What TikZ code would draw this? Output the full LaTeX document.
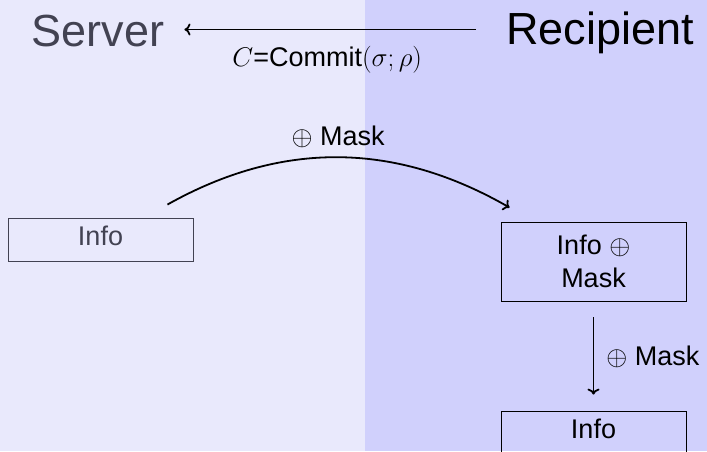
\RequirePackage{fix-cm}
\documentclass[tikz,border=0pt]{standalone}
\usepackage{fontspec}
\setmainfont{Liberation Sans}
\usetikzlibrary{arrows.meta}
\definecolor{bgleft}{RGB}{233,233,252}
\definecolor{bgright}{RGB}{208,208,252}
\definecolor{dimtext}{RGB}{66,66,82}
\tikzset{
  party/.style={font=\fontsize{45}{52}\selectfont, text height=32pt, text depth=0pt, inner sep=0pt},
  msgbox/.style={draw, line width=0.9pt, minimum width=185pt, font=\fontsize{27}{33}\selectfont, align=center, inner sep=0pt},
  onebox/.style={msgbox, minimum height=43pt, text depth=7pt},
  lbl/.style={font=\fontsize{27}{33}\selectfont, inner sep=0pt},
  flow/.style={-{To[length=6pt,width=12pt]}, line width=1.8pt},
}
\begin{document}
\begin{tikzpicture}[x=1pt,y=-1pt]
  % two shaded halves
  \fill[bgleft] (0,0) rectangle (365,451);
  \fill[bgright] (365,0) rectangle (707,451);
  \useasboundingbox (0,0) rectangle (707,451);

  % parties
  \node[party, text=dimtext] (server) at (98,30) {Server};
  \node[party] (recip) at (600,28) {Recipient};

  % commitment sent to the server
  \draw[flow] ([xshift=-30pt]recip.west |- 0,29.5) -- ([xshift=20pt]server.east |- 0,29.5)
    node[lbl, midway, anchor=base, yshift=-37pt, xshift=-3pt] {$C$=Commit$(\sigma;\rho)$};

  % boxes
  \node[onebox, draw=dimtext, text=dimtext] (info) at (100.5,239.5) {Info};
  \node[msgbox, minimum height=79pt] (masked) at (593.5,261.5) {Info $\oplus$\\Mask};
  \node[onebox] (plain) at (593.5,432.5) {Info};

  % masking step
  \draw[flow] ([shift={(-26,-13)}]info.north east)
    .. controls +(114,-64) and +(-115,-66) .. ([shift={(9,-14)}]masked.north west)
    node[lbl, pos=0.5, anchor=base, yshift=12pt] {$\oplus$ Mask};

  % unmasking step
  \draw[flow, shorten <=16pt, shorten >=16pt] (masked.south) -- (plain.north)
    node[lbl, midway, anchor=base west, xshift=12pt, yshift=-9pt] {$\oplus$ Mask};
\end{tikzpicture}
\end{document}
